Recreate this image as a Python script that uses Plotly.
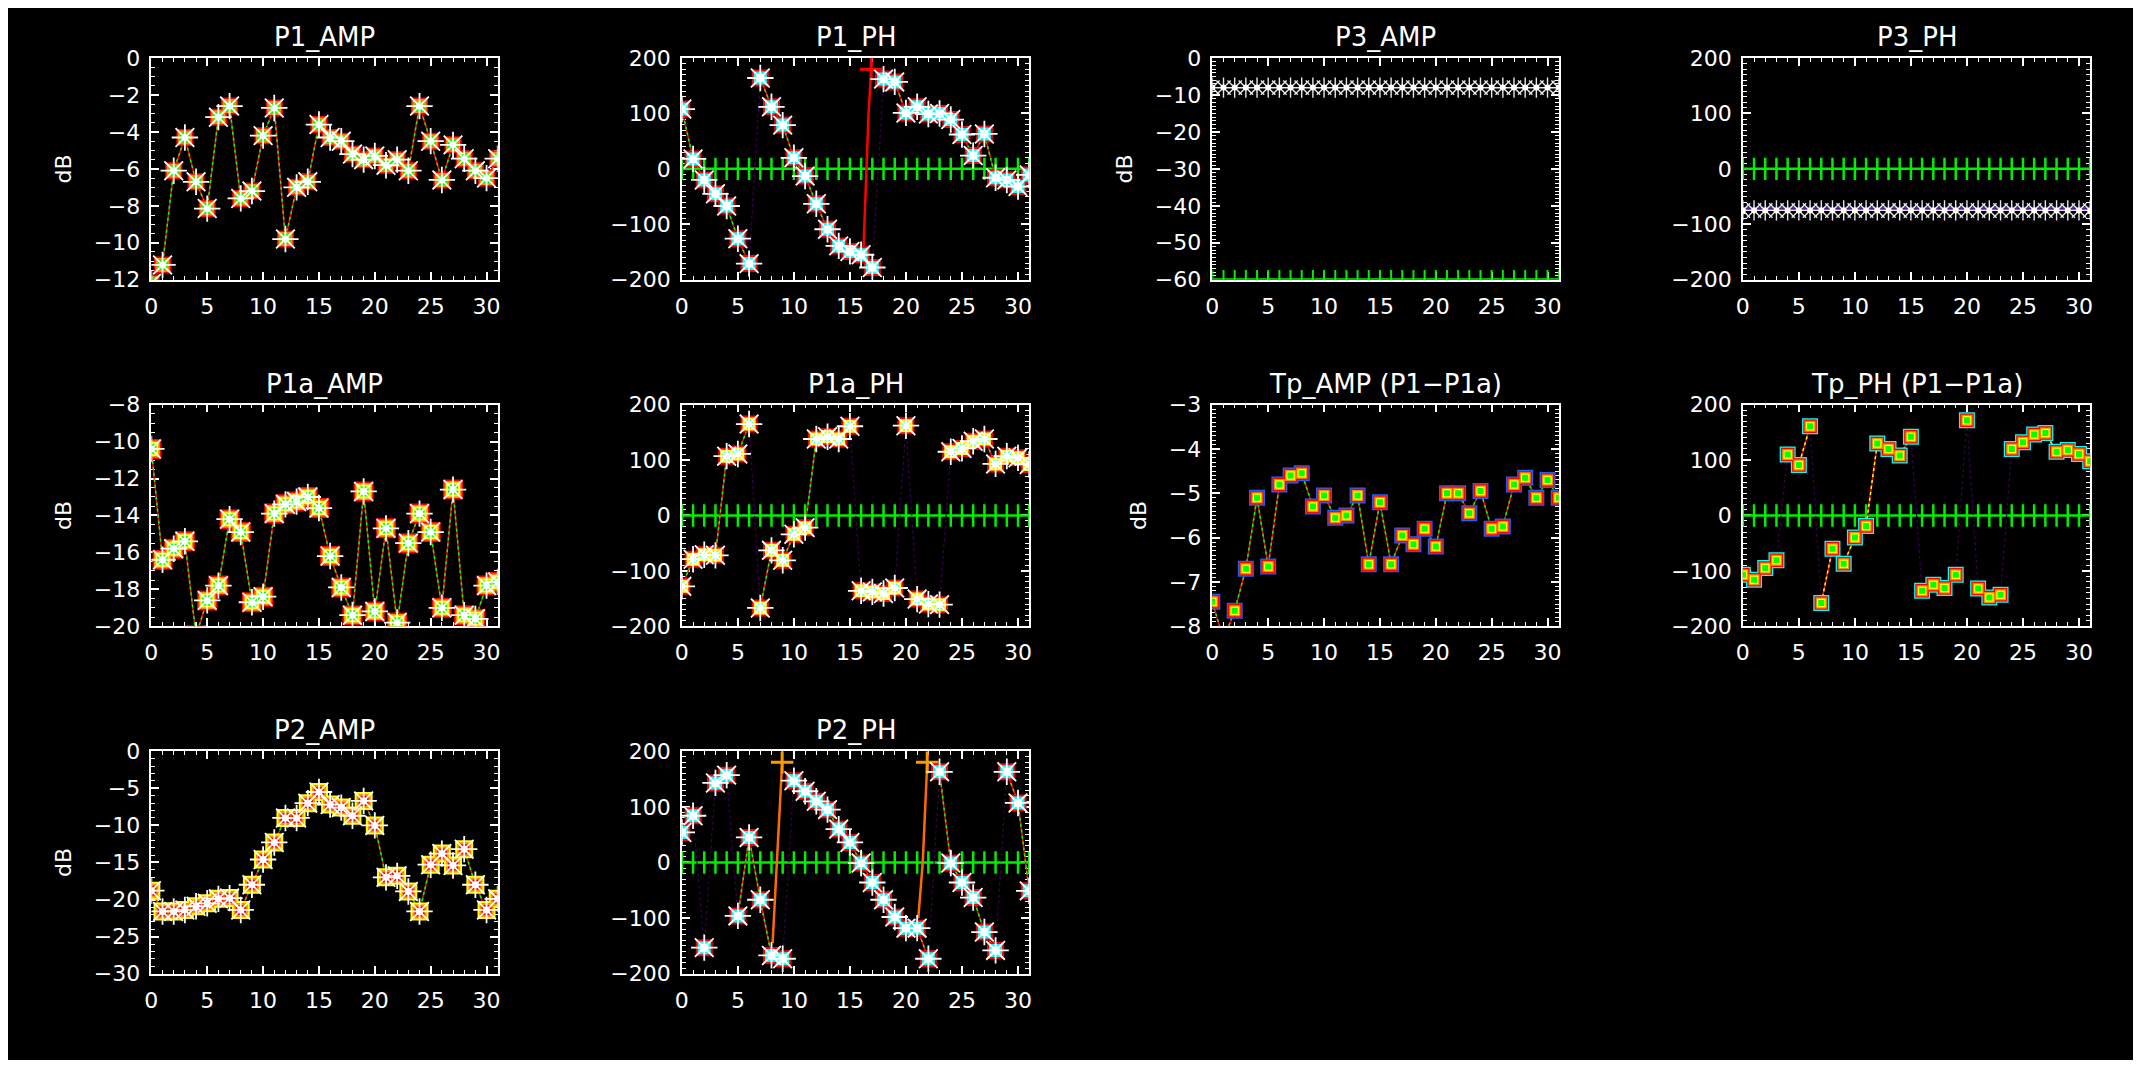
import plotly.graph_objects as go

# page is 2141x1068; the browser body keeps its default 8px margin,
# so the figure is sized to fit exactly inside it.
PAGE_W, PAGE_H = 2141, 1068
OFF = 8
FW, FH = PAGE_W - 2 * OFF, PAGE_H - 2 * OFF

# ---------------- data ----------------
channels = [0, 1, 2, 3, 4, 5, 6, 7, 8, 9, 10, 11, 12, 13, 14, 15,
            16, 17, 18, 19, 20, 21, 22, 23, 24, 25, 26, 27, 28, 29, 30, 31]
x_ticks = [0, 5, 10, 15, 20, 25, 30]

p1_amp = [-12.2, -11.2, -6.1, -4.3, -6.7, -8.15, -3.2, -2.6, -7.6, -7.2, -4.2, -2.7, -9.8, -7.0, -6.7, -3.6,
          -4.3, -4.5, -5.2, -5.5, -5.3, -5.8, -5.5, -6.1, -2.6, -4.5, -6.6, -4.7, -5.45, -6.1, -6.5, -5.45]
p1_ph = [108, 18, -20, -45, -67, -126, -171, 164, 112, 79, 20, -13, -63, -109, -139, -149,
         -155, -178, 162, 157, 101, 112, 99, 100, 89, 62, 24, 63, -16, -20, -32, -11]
p1_ph_wrap_x = [16.2, 16.35, 16.5, 16.65, 16.8, 16.9]
p1_ph_wrap_y = [-150, -70, 36, 94, 147, 180]

p3_amp = [-8, -8, -8, -8, -8, -8, -8, -8, -8, -8, -8, -8, -8, -8, -8, -8,
          -8, -8, -8, -8, -8, -8, -8, -8, -8, -8, -8, -8, -8, -8, -8, -8]
p3_amp_ref = [-60, -60, -60, -60, -60, -60, -60, -60, -60, -60, -60, -60, -60, -60, -60, -60,
              -60, -60, -60, -60, -60, -60, -60, -60, -60, -60, -60, -60, -60, -60, -60, -60]
p3_ph = [-75, -75, -75, -75, -75, -75, -75, -75, -75, -75, -75, -75, -75, -75, -75, -75,
         -75, -75, -75, -75, -75, -75, -75, -75, -75, -75, -75, -75, -75, -75, -75, -75]
p3_ph_alt = [-70, -70, -70, -70, -70, -70, -70, -70, -70, -70, -70, -70, -70, -70, -70, -70,
             -70, -70, -70, -70, -70, -70, -70, -70, -70, -70, -70, -70, -70, -70, -70, -70]
phase_ref = [0, 0, 0, 0, 0, 0, 0, 0, 0, 0, 0, 0, 0, 0, 0, 0,
             0, 0, 0, 0, 0, 0, 0, 0, 0, 0, 0, 0, 0, 0, 0, 0]

p1a_amp = [-10.4, -16.4, -15.8, -15.4, -20.5, -18.6, -17.8, -14.2, -14.9, -18.7, -18.4, -13.9, -13.4, -13.25, -13.0, -13.6,
           -16.2, -17.9, -19.4, -12.7, -19.2, -14.7, -19.8, -15.5, -13.9, -14.9, -19.0, -12.6, -19.4, -19.6, -17.8, -17.6]
p1a_ph = [-128, -79, -71, -72, 107, 111, 165, -167, -63, -81, -34, -22, 138, 142, 138, 161,
          -136, -138, -141, -131, 162, -151, -160, -161, 115, 121, 134, 138, 93, 107, 104, 92]

tp_amp = [-7.45, -8.3, -7.65, -6.7, -5.1, -6.65, -4.8, -4.6, -4.55, -5.3, -5.05, -5.55, -5.5, -5.05, -6.6, -5.2,
          -6.6, -5.95, -6.15, -5.8, -6.2, -5.0, -5.0, -5.45, -4.95, -5.8, -5.75, -4.8, -4.65, -5.1, -4.7, -5.1]
tp_ph = [-107, -116, -95, -81, 110, 91, 161, -158, -60, -87, -40, -19, 130, 120, 108, 142,
         -136, -125, -131, -107, 172, -132, -148, -143, 120, 132, 146, 149, 115, 118, 111, 98]

p2_amp = [-18.8, -21.6, -21.6, -21.4, -20.9, -20.5, -19.9, -19.8, -21.4, -18.0, -14.6, -12.3, -9.0, -9.0, -7.0, -5.5,
          -7.2, -7.6, -8.7, -6.7, -10.0, -17.0, -16.8, -18.9, -21.6, -15.3, -13.8, -15.4, -13.2, -18.0, -21.4, -19.9]
p2_ph = [54, 84, -153, 143, 157, -96, 45, -67, -167, -173, 147, 128, 110, 95, 60, 36,
         -1, -36, -67, -98, -118, -118, -173, 163, -1, -36, -63, -125, -158, 163, 107, -51]
p2_ph_wrap1_x = [8.1, 8.5, 8.95]
p2_ph_wrap1_y = [-145, 0, 180]
p2_ph_wrap2_x = [21.1, 21.5, 21.9]
p2_ph_wrap2_y = [-100, 0, 180]

# ---------------- layout geometry (page pixels) ----------------
COLS = [(145, 493), (678, 1027), (1211, 1559), (1744, 2093)]
ROWS = [(47, 274), (402, 629), (757, 985)]

RED, ORANGE, YELLOW, GREEN, CYAN, BLUE, WHITE = (
    "#ff0000", "#ff8800", "#ffff00", "#00ff00", "#00ffff", "#2060ff", "#ffffff")
FONT = "DejaVu Sans"

panels = [
    dict(title="P1_AMP", col=0, row=0, y=p1_amp, kind="amp", yr=[-12, 0], dt=2, mdt=0.5, db=True,
         boxes=[(RED, 17), (ORANGE, 14), (GREEN, 10)]),
    dict(title="P1_PH", col=1, row=0, y=p1_ph, kind="ph", yr=[-200, 200], dt=100, mdt=10, db=False,
         boxes=[(RED, 17), (CYAN, 13), (WHITE, 8)]),
    dict(title="P3_AMP", col=2, row=0, y=p3_amp, kind="p3amp", yr=[-60, 0], dt=10, mdt=1, db=True),
    dict(title="P3_PH", col=3, row=0, y=p3_ph, kind="p3ph", yr=[-200, 200], dt=100, mdt=10, db=False),
    dict(title="P1a_AMP", col=0, row=1, y=p1a_amp, kind="amp", yr=[-20, -8], dt=2, mdt=0.5, db=True,
         boxes=[(RED, 20), (ORANGE, 17), (YELLOW, 14), (GREEN, 10)]),
    dict(title="P1a_PH", col=1, row=1, y=p1a_ph, kind="ph", yr=[-200, 200], dt=100, mdt=10, db=False,
         boxes=[(RED, 17), (YELLOW, 13), (CYAN, 8)]),
    dict(title="Tp_AMP (P1\u2212P1a)", col=2, row=1, y=tp_amp, kind="tp", yr=[-8, -3], dt=1, mdt=0.1, db=True,
         boxes=[(BLUE, 16), (RED, 13.5), (ORANGE, 11), (YELLOW, 8.5), (GREEN, 6)]),
    dict(title="Tp_PH (P1\u2212P1a)", col=3, row=1, y=tp_ph, kind="tpph", yr=[-200, 200], dt=100, mdt=10, db=False,
         boxes=[(CYAN, 16), (RED, 13.5), (ORANGE, 11), (YELLOW, 8.5), (GREEN, 6)]),
    dict(title="P2_AMP", col=0, row=2, y=p2_amp, kind="amp", yr=[-30, 0], dt=5, mdt=1, db=True,
         boxes=[(YELLOW, 18), (ORANGE, 14), (RED, 10)]),
    dict(title="P2_PH", col=1, row=2, y=p2_ph, kind="ph", yr=[-200, 200], dt=100, mdt=10, db=False,
         boxes=[(RED, 17), (CYAN, 13), (WHITE, 8)]),
]


def break_wraps(xs, ys):
    bx, by = [], []
    for i, (xv, yv) in enumerate(zip(xs, ys)):
        if i > 0 and abs(yv - ys[i - 1]) > 180:
            bx.append(None)
            by.append(None)
        bx.append(xv)
        by.append(yv)
    return bx, by


fig = go.Figure()
layout = dict(
    width=FW, height=FH,
    margin=dict(l=0, r=0, t=0, b=0),
    paper_bgcolor="black",
    plot_bgcolor="black",
    showlegend=False,
    font=dict(family=FONT, color="white"),
    annotations=[],
)

for i, p in enumerate(panels, start=1):
    xa = "x" if i == 1 else f"x{i}"
    ya = "y" if i == 1 else f"y{i}"
    l, r = COLS[p["col"]]
    t, b = ROWS[p["row"]]
    xdom = [(l - OFF) / FW, (r - OFF) / FW]
    ydom = [1 - (b - OFF) / FH, 1 - (t - OFF) / FH]

    axis_common = dict(
        showline=True, linecolor="white", linewidth=1.5, mirror="ticks",
        ticks="inside", tickcolor="white", tickwidth=1.5,
        showgrid=False, zeroline=False, layer="below traces",
        tickfont=dict(family=FONT, size=22, color="white"),
    )
    layout["xaxis" if i == 1 else f"xaxis{i}"] = dict(
        axis_common, domain=xdom, anchor=ya, range=[0, 31],
        tickmode="array", tickvals=x_ticks, ticklen=8, ticklabelstandoff=6,
        minor=dict(ticks="inside", dtick=1, tick0=0, ticklen=4, tickcolor="white", tickwidth=1.2),
    )
    ydict = dict(
        axis_common, domain=ydom, anchor=xa, range=p["yr"],
        dtick=p["dt"], tick0=0, ticklen=8, ticklabelstandoff=5,
        minor=dict(ticks="inside", dtick=p["mdt"], tick0=0, ticklen=4, tickcolor="white", tickwidth=1.2),
    )
    if p["db"]:
        ydict["title"] = dict(text="dB", font=dict(family=FONT, size=22, color="white"), standoff=16)
    layout["yaxis" if i == 1 else f"yaxis{i}"] = ydict

    layout["annotations"].append(dict(
        text=p["title"], xref="paper", yref="paper", x=(xdom[0] + xdom[1]) / 2, y=ydom[1],
        xanchor="center", yanchor="bottom", yshift=4, showarrow=False,
        font=dict(family=FONT, size=26, color="white"),
    ))

    kind = p["kind"]
    y = p["y"]

    def add(**kw):
        fig.add_trace(go.Scatter(xaxis=xa, yaxis=ya, hoverinfo="skip", **kw))

    if kind in ("ph", "tpph", "p3ph"):
        add(x=channels, y=phase_ref, mode="lines+markers",
            line=dict(color="#00ee00", width=2.5),
            marker=dict(symbol="line-ns", size=16, color="#00ee00", line=dict(color="#00ee00", width=2.5)))

    if kind == "p3amp":
        add(x=channels, y=p3_amp_ref, mode="lines+markers",
            line=dict(color="#00ee00", width=3),
            marker=dict(symbol="line-ns", size=14, color="#00ee00", line=dict(color="#00ee00", width=2)))
    if kind in ("p3amp", "p3ph"):
        if kind == "p3ph":
            add(x=channels, y=p3_ph_alt, mode="lines", line=dict(color="#7020d0", width=2))
        add(x=channels, y=y, mode="lines", line=dict(color="white", width=1))
        add(x=channels, y=y, mode="markers",
            marker=dict(symbol="asterisk-open", size=17, color="#e8e8e8", line=dict(color="#e8e8e8", width=1.4)))
        add(x=channels, y=y, mode="markers", marker=dict(symbol="circle", size=6, color="white"))
        continue

    # connecting lines
    if kind in ("ph", "tpph"):
        add(x=channels, y=y, mode="lines", line=dict(color="#3a0050", width=1.2, dash="dot"))
        lx, ly = break_wraps(channels, y)
    else:
        lx, ly = channels, y
    add(x=lx, y=ly, mode="lines", line=dict(color=RED, width=1.5), connectgaps=False)
    add(x=lx, y=ly, mode="lines", line=dict(color=GREEN if kind != "tpph" else YELLOW, width=1.5, dash="dot"),
        connectgaps=False)

    # wrap jumps drawn as solid lines
    if p["title"] == "P1_PH":
        add(x=p1_ph_wrap_x, y=p1_ph_wrap_y, mode="lines", line=dict(color=RED, width=2.5))
        add(x=[p1_ph_wrap_x[-1]], y=[p1_ph_wrap_y[-1]], mode="markers",
            marker=dict(symbol="cross-thin", size=16, color=RED, line=dict(color=RED, width=3)))
    if p["title"] == "P2_PH":
        for wx, wy in ((p2_ph_wrap1_x, p2_ph_wrap1_y), (p2_ph_wrap2_x, p2_ph_wrap2_y)):
            add(x=wx, y=wy, mode="lines", line=dict(color="#ff6a00", width=2.5))
            add(x=[wx[-1]], y=[wy[-1]], mode="markers",
                marker=dict(symbol="cross-thin", size=16, color="#ff9900", line=dict(color="#ff9900", width=3)))

    # rainbow boxes
    for col, sz in p["boxes"]:
        add(x=channels, y=y, mode="markers",
            marker=dict(symbol="square", size=sz, color=col, line=dict(width=0)))

    if kind in ("amp", "ph"):
        add(x=channels, y=y, mode="markers",
            marker=dict(symbol="asterisk-open", size=22, color="white", line=dict(color="white", width=1.8)))
        add(x=channels, y=y, mode="markers", marker=dict(symbol="circle", size=7, color="white"))

fig.update_layout(**layout)
fig.write_html("out.html", config={"displayModeBar": False})
